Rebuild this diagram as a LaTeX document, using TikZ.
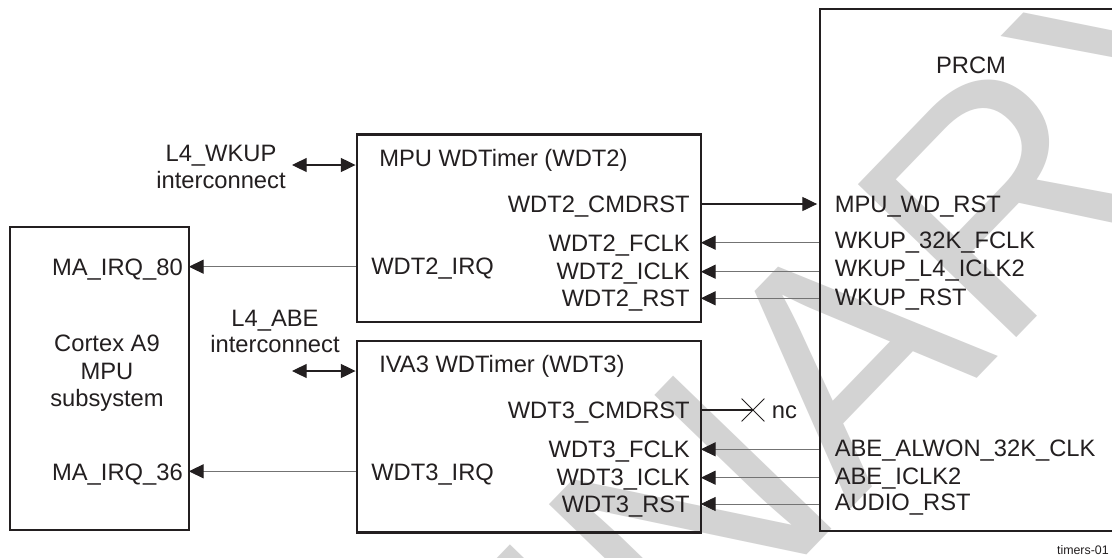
\documentclass[tikz,border=0pt]{standalone}
\usepackage{fontspec}
\setmainfont{Liberation Sans}
\usetikzlibrary{arrows.meta,fit,shapes.misc}
\definecolor{ink}{RGB}{35,31,32}
\definecolor{wirec}{RGB}{115,115,115}
\definecolor{wmark}{RGB}{211,211,211}
\begin{document}
\begin{tikzpicture}[x=0.75pt,y=-0.75pt,
  box/.style={draw=ink,line width=2.2pt,inner sep=0pt},
  lbl/.style={inner sep=0pt,text=ink,font=\fontsize{17.8}{21}\selectfont},
  wmtext/.style={rotate=46,inner sep=0pt,text=wmark,font=\fontsize{240}{240}\selectfont},
  head/.style={-{Triangle[length=11pt,width=10.5pt,color=ink]}},
  both/.style={{Triangle[length=11pt,width=10.5pt,color=ink]}-{Triangle[length=11pt,width=10.5pt,color=ink]}},
  wire/.style={line width=0.6pt,draw=wirec},
  cmd/.style={line width=0.8pt,draw=ink},
]
\useasboundingbox (0,0) rectangle (1112,557);
\clip (0,0) rectangle (1112,557);
\fill[white] (0,0) rectangle (1112,557);

% watermark
\node[wmtext,anchor=base east] (wm1) at (850,510) {PRELIMIN};
\node[wmtext,anchor=base west] (wm2) at (850,510) {ARY};

% boxes
\node[box,fit={(10,227) (189,530)}] (cpu) {};
\node[box,fit={(357,134.5) (701,322)}] (wdt2) {};
\node[box,fit={(357,341) (701,532.5)}] (wdt3) {};
\node[box,fit={(820,9) (1140,531)}] (prcm) {};

% CPU labels
\node[lbl,anchor=base east] (ma80) at (183,275) {MA\_IRQ\_80};
\node[lbl,anchor=base] (cpu1) at (107,351.7) {Cortex A9};
\node[lbl,anchor=base] (cpu2) at (107,379) {MPU};
\node[lbl,anchor=base] (cpu3) at (107,406) {subsystem};
\node[lbl,anchor=base east] (ma36) at (183,480) {MA\_IRQ\_36};

% interconnect labels
\node[lbl,anchor=base] (wk1) at (221,161) {L4\_WKUP};
\node[lbl,anchor=base] (wk2) at (221,188) {interconnect};
\node[lbl,anchor=base] (ab1) at (275,326) {L4\_ABE};
\node[lbl,anchor=base] (ab2) at (275,352) {interconnect};

% WDT2 labels
\node[lbl,anchor=base west] (t2) at (379,166.5) {MPU WDTimer (WDT2)};
\node[lbl,anchor=base east] (cmd2) at (690,212.7) {WDT2\_CMDRST};
\node[lbl,anchor=base east] (f2) at (690,251) {WDT2\_FCLK};
\node[lbl,anchor=base east] (i2) at (690,279.3) {WDT2\_ICLK};
\node[lbl,anchor=base east] (r2) at (690,306.7) {WDT2\_RST};
\node[lbl,anchor=base west] (irq2) at (371,274) {WDT2\_IRQ};

% WDT3 labels
\node[lbl,anchor=base west] (t3) at (379,372.7) {IVA3 WDTimer (WDT3)};
\node[lbl,anchor=base east] (cmd3) at (690,418.3) {WDT3\_CMDRST};
\node[lbl,anchor=base east] (f3) at (690,457.3) {WDT3\_FCLK};
\node[lbl,anchor=base east] (i3) at (690,485.7) {WDT3\_ICLK};
\node[lbl,anchor=base east] (r3) at (690,512.7) {WDT3\_RST};
\node[lbl,anchor=base west] (irq3) at (371,480) {WDT3\_IRQ};

% PRCM labels
\node[lbl,anchor=base] (pt) at (971,73.3) {PRCM};
\node[lbl,anchor=base west] (p1) at (834.5,212.3) {MPU\_WD\_RST};
\node[lbl,anchor=base west] (p2) at (834.5,248.3) {WKUP\_32K\_FCLK};
\node[lbl,anchor=base west] (p3) at (834.5,276.3) {WKUP\_L4\_ICLK2};
\node[lbl,anchor=base west] (p4) at (834.5,305) {WKUP\_RST};
\node[lbl,anchor=base west] (p5) at (834.5,456.7) {ABE\_ALWON\_32K\_CLK};
\node[lbl,anchor=base west] (p6) at (834.5,484) {ABE\_ICLK2};
\node[lbl,anchor=base west] (p7) at (834.5,510.7) {AUDIO\_RST};

\node[inner sep=0pt,text=ink,font=\fontsize{9.3}{11}\selectfont,anchor=base east] (tag) at (1109,554) {timers-01};

% row coordinates
\coordinate (ywk) at (292,165);
\coordinate (yab) at (292,371);
\coordinate (y80) at (0,266.7);
\coordinate (y36) at (0,471.3);
\coordinate (yc2) at (0,204);
\coordinate (yf2) at (0,242.7);
\coordinate (yi2) at (0,271.7);
\coordinate (yr2) at (0,298.3);
\coordinate (yf3) at (0,449.3);
\coordinate (yi3) at (0,477.7);
\coordinate (yr3) at (0,504);
\node[cross out,draw=ink,line width=0.6pt,inner sep=0pt,minimum size=16.5pt] (nc) at (753,410) {};
\node[lbl,anchor=base west] (nct) at (771.7,418.3) {nc};

% connectors
\draw[cmd,both] (ywk) -- (wdt2.west |- ywk);
\draw[cmd,both] (yab) -- (wdt3.west |- yab);
\draw[wire,head,shorten >=-1.2pt] (wdt2.west |- y80) -- (cpu.east |- y80);
\draw[wire,head,shorten >=-1.2pt] (wdt3.west |- y36) -- (cpu.east |- y36);
\draw[cmd,head,shorten >=1.1pt] (wdt2.east |- yc2) -- (prcm.west |- yc2);
\draw[wire,head,shorten >=-1.2pt] (prcm.west |- yf2) -- (wdt2.east |- yf2);
\draw[wire,head,shorten >=-1.2pt] (prcm.west |- yi2) -- (wdt2.east |- yi2);
\draw[wire,head,shorten >=-1.2pt] (prcm.west |- yr2) -- (wdt2.east |- yr2);
\draw[wire,head,shorten >=-1.2pt] (prcm.west |- yf3) -- (wdt3.east |- yf3);
\draw[wire,head,shorten >=-1.2pt] (prcm.west |- yi3) -- (wdt3.east |- yi3);
\draw[wire,head,shorten >=-1.2pt] (prcm.west |- yr3) -- (wdt3.east |- yr3);
\draw[cmd] (wdt3.east |- nc) -- (nc.center);
\end{tikzpicture}
\end{document}
